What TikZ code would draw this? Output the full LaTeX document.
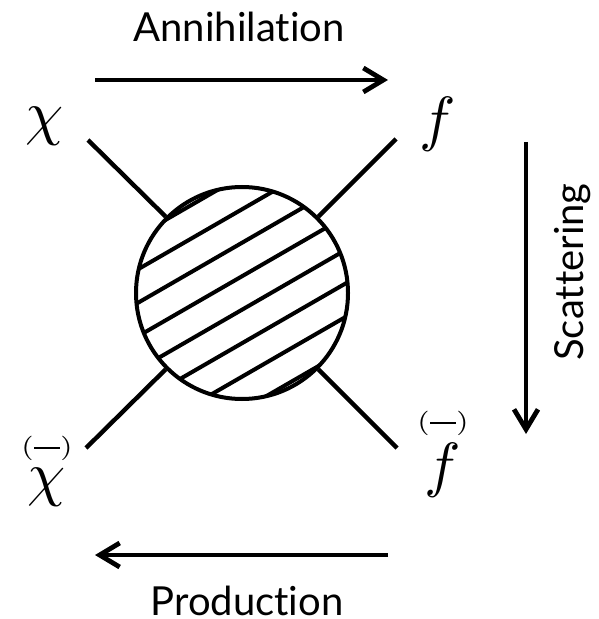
\documentclass[tikz,border=0pt]{standalone}
\usepackage{amsmath}
\usepackage{graphicx}
\usepackage{fontspec}
\setsansfont{Lato}[Ligatures=NoCommon]
\usetikzlibrary{arrows.meta,positioning,calc}
\newcommand{\bigsym}[1]{\scalebox{3.05}{$#1$}}
\newcommand{\optbar}[1]{\overset{\hbox{\fontsize{4}{5}\selectfont(\rule[0.95pt]{4.2pt}{0.33pt})}}{#1}}
\tikzset{
  blobnode/.style={
    circle, draw, line width=2pt, minimum size=106pt, inner sep=0pt,
    path picture={
      \foreach \d in {-101.5,-72.5,-43.5,-14.5,14.5,43.5,72.5,101.5}
        \draw[line width=2pt, shift={(path picture bounding box.center)}]
          ({0.5*\d-104},{0.866*\d+60}) -- ({0.5*\d+104},{0.866*\d-60});
    }
  },
  legline/.style={line width=2.2pt},
  procarrow/.style={
    -{Straight Barb[length=10pt, width=12pt]}, line width=2.4pt
  },
  proclabel/.style={font=\sffamily\fontsize{20}{24}\selectfont, inner sep=0pt},
  partlabel/.style={inner sep=0pt, anchor=base}
}

\begin{document}
\begin{tikzpicture}[x=0.5pt, y=-0.5pt]
  \useasboundingbox (0,0) rectangle (598,619);
  % blob and external legs
  \node[blobnode] (blob) at (242,293) {};
  \node[partlabel] (chi) at (45,134) {\bigsym{\chi}};
  \node[partlabel] (f) at (438,140) {\bigsym{f}};
  \node[partlabel] (chibar) at (47,494) {\bigsym{\optbar{\chi}}};
  \node[partlabel] (fbar) at (443,485) {\bigsym{\optbar{f}}};
  \coordinate (chi-end) at (88,140);
  \coordinate (f-end) at (396,139);
  \coordinate (chibar-end) at (86,448);
  \coordinate (fbar-end) at (397,448);
  \draw[legline] (blob.135) -- (chi-end);
  \draw[legline] (blob.45) -- (f-end);
  \draw[legline] (blob.225) -- (chibar-end);
  \draw[legline] (blob.315) -- (fbar-end);
  % process arrows
  \node[proclabel, anchor=base] (ann) at (239,42) {Annihilation};
  \node[proclabel, anchor=base] (prod) at (247,615) {Production};
  \node[proclabel, anchor=base, rotate=90] (scat) at (583,272) {Scattering};
  \coordinate (ann-a) at (95,80);
  \coordinate (ann-b) at (388,80);
  \coordinate (prod-a) at (388,555);
  \coordinate (prod-b) at (95,555);
  \coordinate (scat-a) at (526,142);
  \coordinate (scat-b) at (526,434);
  \draw[procarrow] (ann-a) -- (ann-b);
  \draw[procarrow] (prod-a) -- (prod-b);
  \draw[procarrow] (scat-a) -- (scat-b);
\end{tikzpicture}
\end{document}
